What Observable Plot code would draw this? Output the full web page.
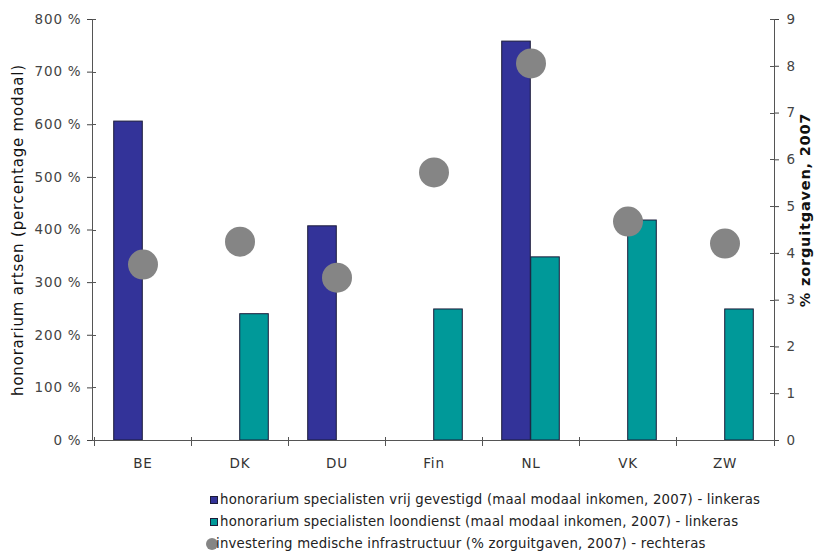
<!DOCTYPE html>
<html><head><meta charset="utf-8">
<script src="https://cdn.jsdelivr.net/npm/d3@7"></script>
<script src="https://cdn.jsdelivr.net/npm/@observablehq/plot@0.6"></script>
<style>
body{margin:0;background:#fff;font-family:"DejaVu Sans",Verdana,sans-serif;}
#legend{margin-left:206px;padding-top:11px;font-size:13.3px;letter-spacing:0.2px;color:#222;}
.item{height:22px;line-height:22px;display:flex;align-items:center;white-space:nowrap;}
.sw{width:6px;height:6px;border:1px solid #1b1b3a;margin-left:4px;margin-right:2px;}
.circ{width:12px;height:12px;border-radius:50%;margin-right:-2px;}
</style></head><body><div id="chart"></div><div id="legend"></div>
<script>
const countries = ["BE", "DK", "DU", "Fin", "NL", "VK", "ZW"];
const vrijGevestigd = [606, null, 407, null, 758, null, null];
const loondienst = [null, 240, null, 249, 348, 418, 249];
const investering = [3.76, 4.25, 3.48, 5.73, 8.06, 4.68, 4.21];
const leftTicks = [0, 100, 200, 300, 400, 500, 600, 700, 800];
const rightTicks = [0, 1, 2, 3, 4, 5, 6, 7, 8, 9];
const seriesNames = [
  "honorarium specialisten vrij gevestigd (maal modaal inkomen, 2007) - linkeras",
  "honorarium specialisten loondienst (maal modaal inkomen, 2007) - linkeras",
  "investering medische infrastructuur (% zorguitgaven, 2007) - rechteras"
];
const seriesColors = ["#333399", "#009999", "#858585"];
const leftLabel = "honorarium artsen (percentage modaal)";
const rightLabel = "% zorguitgaven, 2007";

const leftMax = leftTicks[leftTicks.length - 1];
const rightMax = rightTicks[rightTicks.length - 1];
const k = leftMax / rightMax;

const W = 819, H = 478, ML = 92, MR = 45, MT = 19, MB = 38;
const bw = (W - ML - MR) / countries.length;
const half = bw / 2, barW = 29;

const vrijData = countries.map((c, i) => ({c, v: vrijGevestigd[i]})).filter(d => d.v != null);
const loonData = countries.map((c, i) => ({c, v: loondienst[i]})).filter(d => d.v != null);
const invData = countries.map((c, i) => ({c, v: investering[i]}));

const axisColor = "#555";

function axisDecor(index, scales, values, dimensions) {
  const {width, height, marginLeft, marginRight, marginTop, marginBottom} = dimensions;
  const g = d3.create("svg:g").attr("stroke", axisColor).attr("stroke-width", 1).attr("fill", "none");
  const x0 = marginLeft, x1 = width - marginRight, y0 = height - marginBottom, yT = marginTop;
  g.append("line").attr("x1", x0 + 0.5).attr("x2", x0 + 0.5).attr("y1", yT).attr("y2", y0);
  g.append("line").attr("x1", x1 + 0.5).attr("x2", x1 + 0.5).attr("y1", yT).attr("y2", y0);
  g.append("line").attr("x1", x0).attr("x2", x1).attr("y1", y0 + 0.5).attr("y2", y0 + 0.5);
  for (const t of leftTicks) {
    const y = Math.round(scales.y(t)) + 0.5;
    g.append("line").attr("x1", x0).attr("x2", x0 + 4).attr("y1", y).attr("y2", y);
  }
  for (const t of rightTicks) {
    const y = Math.round(scales.y(t * k)) + 0.5;
    g.append("line").attr("x1", x1 - 4).attr("x2", x1).attr("y1", y).attr("y2", y);
  }
  const edges = countries.map(c => scales.x(c)).concat([x1]);
  for (const e of edges) {
    const x = Math.round(e) + 0.5;
    g.append("line").attr("x1", x).attr("x2", x).attr("y1", y0 - 3).attr("y2", y0 + 6);
  }
  return g.node();
}

const chart = Plot.plot({
  width: W, height: H,
  marginLeft: ML, marginRight: MR, marginTop: MT, marginBottom: MB,
  style: {fontFamily: "'DejaVu Sans', Verdana, sans-serif", fontSize: "13.5px", letterSpacing: "0.8px", color: "#333", background: "#fff"},
  x: {type: "band", domain: countries, padding: 0, label: null},
  y: {domain: [0, leftMax], label: null},
  marks: [
    Plot.barY(vrijData, {x: "c", y: "v", fill: seriesColors[0], stroke: "#1b1b3a", strokeWidth: 1, insetLeft: half - barW, insetRight: half}),
    Plot.barY(loonData, {x: "c", y: "v", fill: seriesColors[1], stroke: "#1b1b3a", strokeWidth: 1, insetLeft: half, insetRight: half - barW}),
    Plot.dot(invData, {x: "c", y: d => d.v * k, r: 15, fill: seriesColors[2]}),
    Plot.axisY({ticks: leftTicks, tickFormat: d => d + " %", tickSize: 5, tickPadding: 6, color: "#444", fontSize: 13.5}),
    Plot.axisY({anchor: "right", ticks: rightTicks.map(v => v * k), tickFormat: d => String(Math.round(d / k)), tickSize: 4, tickPadding: 8, color: "#444", fontSize: 13.5}),
    Plot.axisX({tickSize: 0, tickPadding: 18, color: "#333", fontSize: 13.5}),
    axisDecor,
    Plot.text([leftLabel], {frameAnchor: "left", textAnchor: "middle", dx: -74, rotate: -90, fontSize: 15, fill: "#111"}),
    Plot.text([rightLabel], {frameAnchor: "right", textAnchor: "middle", dx: 31, dy: -20, rotate: -90, fontSize: 14.5, fontWeight: "bold", fill: "#111"})
  ]
});
document.getElementById("chart").appendChild(chart);

const legend = document.getElementById("legend");
seriesNames.forEach((name, i) => {
  const item = document.createElement("div");
  item.className = "item";
  const m = document.createElement("span");
  m.className = i < 2 ? "sw" : "circ";
  m.style.background = seriesColors[i];
  item.appendChild(m);
  const t = document.createElement("span");
  t.textContent = name;
  item.appendChild(t);
  legend.appendChild(item);
});
</script></body></html>
